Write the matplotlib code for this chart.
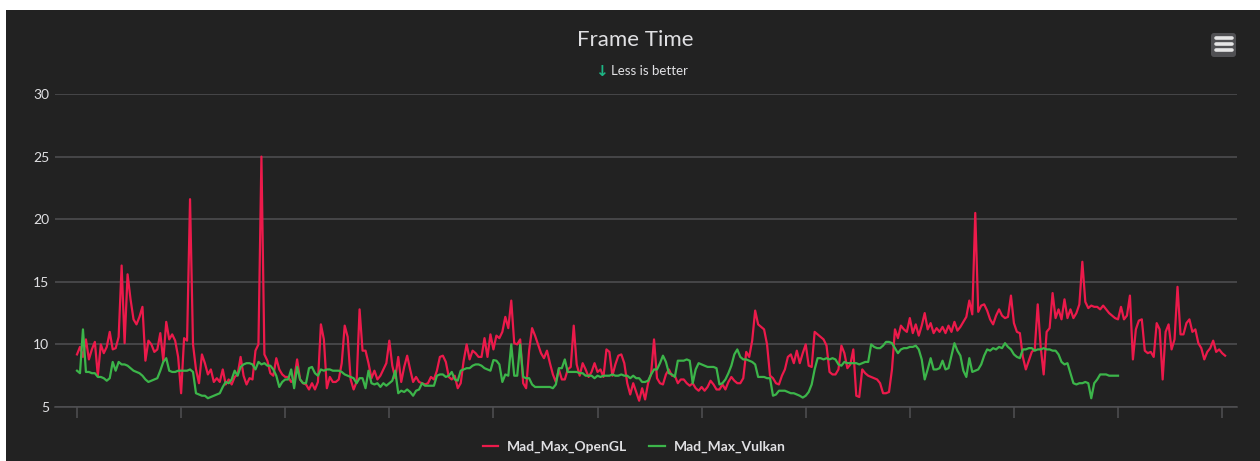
import matplotlib
matplotlib.use('Agg')
import matplotlib.pyplot as plt
import numpy as np
from matplotlib.patches import Rectangle, FancyBboxPatch
from matplotlib.lines import Line2D

# Frame time (ms) per sampled frame, one row per x tick interval (35 samples)
opengl_ms = [
    9.2, 9.8, 9.0, 10.4, 8.8, 9.6, 10.2, 7.5, 10.0, 9.3, 9.8, 11.0, 9.6, 9.7, 10.6, 16.3, 10.1, 15.6, 13.6, 12.0, 11.6, 12.2, 13.0, 8.7, 10.3, 10.0, 9.4, 9.6, 10.9, 8.7, 11.8, 10.4, 10.8, 10.3, 9.0,
    6.1, 10.5, 10.3, 21.6, 10.0, 8.0, 6.9, 9.2, 8.5, 7.6, 8.0, 7.0, 7.3, 7.0, 8.0, 6.8, 7.2, 6.8, 7.4, 7.6, 9.0, 7.5, 6.8, 7.3, 7.2, 9.5, 10.0, 25.0, 9.2, 8.7, 7.7, 7.5, 8.9, 8.0, 7.6,
    7.4, 7.4, 7.0, 7.2, 8.8, 7.2, 6.9, 6.8, 6.4, 6.9, 6.4, 7.0, 11.6, 10.4, 6.5, 7.4, 7.0, 7.0, 7.2, 8.5, 11.5, 10.6, 7.2, 6.4, 7.0, 12.8, 9.5, 9.5, 8.5, 7.3, 7.9, 7.2, 7.5, 8.0, 8.5,
    10.3, 8.3, 7.3, 9.0, 7.0, 8.2, 9.1, 8.0, 7.0, 7.4, 7.0, 6.9, 6.8, 6.9, 7.4, 7.2, 7.9, 9.0, 9.1, 8.6, 7.4, 7.2, 7.5, 6.5, 6.9, 8.7, 10.0, 8.8, 9.5, 9.3, 9.0, 9.0, 10.5, 9.0, 10.8,
    9.6, 10.7, 10.5, 11.0, 12.2, 11.3, 13.5, 10.1, 10.0, 10.4, 6.9, 6.5, 9.5, 11.3, 10.7, 10.0, 9.3, 8.9, 9.5, 8.5, 7.6, 7.0, 8.0, 7.2, 7.2, 8.0, 8.2, 11.5, 8.4, 7.5, 8.5, 8.0, 7.4, 7.8, 8.5,
    7.8, 8.0, 7.4, 9.6, 9.4, 7.5, 8.4, 9.1, 9.2, 8.5, 6.9, 6.0, 6.9, 6.2, 5.5, 6.5, 5.6, 6.9, 7.6, 10.4, 7.3, 6.9, 6.8, 7.6, 8.0, 7.5, 7.5, 6.9, 7.2, 7.2, 6.9, 6.7, 6.9, 6.5, 6.3,
    6.6, 6.3, 6.6, 7.1, 6.8, 6.4, 6.4, 6.8, 6.4, 7.0, 7.4, 7.1, 6.9, 6.9, 7.3, 9.4, 9.0, 10.3, 12.7, 11.6, 11.4, 11.2, 10.0, 7.5, 7.3, 6.9, 6.8, 7.5, 8.0, 9.0, 9.2, 8.5, 9.5, 8.5, 9.3,
    10.0, 8.3, 8.2, 11.0, 10.8, 10.6, 10.4, 9.9, 7.8, 7.6, 7.6, 8.0, 9.9, 9.3, 8.1, 8.4, 9.6, 5.9, 5.8, 8.0, 7.7, 7.5, 7.4, 7.3, 7.2, 6.9, 6.1, 6.1, 6.2, 8.0, 11.2, 10.5, 11.5, 11.2, 11.0,
    12.1, 10.9, 11.6, 10.7, 11.5, 12.5, 11.2, 11.7, 10.9, 11.3, 11.0, 11.4, 10.9, 11.5, 11.0, 11.8, 11.1, 11.4, 11.8, 12.2, 13.5, 12.4, 20.5, 12.6, 13.1, 13.2, 12.7, 12.0, 11.6, 12.3, 12.8, 12.3, 12.1, 12.2, 13.9,
    11.7, 11.0, 10.9, 9.0, 8.0, 8.7, 9.4, 9.6, 13.2, 9.8, 7.6, 11.0, 11.3, 14.1, 12.1, 12.8, 12.0, 13.6, 12.1, 12.8, 12.1, 12.5, 13.2, 16.6, 13.4, 12.9, 13.1, 13.0, 13.0, 12.8, 13.1, 12.8, 12.5, 12.3, 12.1,
    12.0, 13.0, 12.0, 12.3, 13.9, 8.8, 11.2, 11.9, 12.0, 9.5, 9.3, 9.4, 9.0, 11.7, 11.2, 7.2, 11.0, 11.6, 9.6, 10.4, 14.6, 10.8, 10.8, 11.7, 12.0, 11.0, 11.2, 10.1, 9.7, 8.8, 9.4, 9.7, 10.3, 9.4, 9.6, 9.3, 9.1,
]

vulkan_ms = [
    7.9, 7.7, 11.2, 7.8, 7.8, 7.7, 7.7, 7.4, 7.4, 7.3, 7.1, 7.3, 8.6, 7.9, 8.6, 8.4, 8.4, 8.3, 8.1, 7.9, 7.8, 7.7, 7.5, 7.2, 7.0, 7.1, 7.2, 7.3, 7.9, 8.6, 8.9, 7.9, 7.8, 7.8, 7.9,
    7.9, 7.9, 7.9, 8.0, 7.8, 6.1, 6.0, 5.9, 5.9, 5.7, 5.8, 5.9, 6.0, 6.1, 6.6, 7.0, 6.9, 7.2, 7.9, 7.5, 8.2, 8.4, 8.5, 8.5, 8.4, 8.0, 8.6, 8.4, 8.5, 8.3, 8.3, 8.0, 7.5, 6.6, 7.0,
    7.2, 7.2, 8.0, 6.5, 8.2, 7.2, 6.9, 6.9, 8.1, 8.2, 7.7, 7.5, 8.0, 7.9, 8.0, 8.0, 7.9, 7.9, 7.9, 7.8, 7.6, 7.5, 7.4, 7.3, 6.9, 7.3, 7.3, 6.5, 7.9, 6.9, 6.8, 6.9, 6.6, 6.9, 6.7,
    6.9, 7.1, 7.9, 6.1, 6.3, 6.2, 6.4, 6.2, 5.9, 6.3, 6.4, 6.9, 6.7, 6.7, 6.7, 6.7, 7.5, 7.6, 7.6, 7.4, 7.5, 7.8, 7.2, 7.1, 7.9, 8.0, 8.1, 8.1, 8.3, 8.4, 8.4, 8.3, 8.1, 8.0, 7.9,
    8.75, 8.7, 8.4, 7.0, 7.6, 7.5, 10.0, 7.5, 7.5, 10.0, 7.4, 7.3, 7.3, 6.8, 6.6, 6.6, 6.6, 6.6, 6.6, 6.6, 6.5, 6.8, 8.1, 8.1, 8.8, 7.8, 7.8, 7.8, 7.8, 7.7, 7.7, 7.5, 7.5, 7.5, 7.3,
    7.5, 7.4, 7.5, 7.5, 7.5, 7.6, 7.5, 7.5, 7.6, 7.5, 7.5, 7.3, 7.5, 7.3, 7.3, 7.0, 7.0, 7.1, 7.6, 8.0, 8.0, 8.5, 9.1, 8.6, 7.7, 7.6, 7.4, 8.7, 8.7, 8.7, 8.8, 8.7, 6.9, 8.0, 8.5,
    8.4, 8.3, 8.2, 8.2, 8.2, 8.1, 6.8, 6.9, 7.2, 7.7, 8.3, 9.2, 9.6, 9.0, 8.8, 8.8, 8.7, 8.6, 8.4, 7.4, 7.4, 7.4, 7.3, 7.3, 5.9, 6.0, 6.3, 6.3, 6.3, 6.2, 6.1, 6.1, 6.0, 5.9, 5.75,
    5.9, 6.2, 6.8, 8.0, 8.9, 8.9, 8.8, 8.9, 8.8, 8.9, 8.8, 8.4, 8.3, 8.6, 8.5, 8.5, 8.5, 8.5, 8.4, 8.5, 8.6, 8.6, 10.0, 9.8, 9.7, 9.7, 9.9, 10.2, 10.2, 10.1, 9.7, 9.3, 9.6, 9.7, 9.7,
    9.8, 9.8, 9.9, 9.6, 8.8, 7.2, 8.0, 8.9, 8.0, 8.0, 8.1, 8.7, 8.0, 8.1, 9.1, 10.1, 9.5, 9.1, 7.9, 7.4, 8.9, 7.8, 7.9, 8.0, 8.4, 9.1, 9.6, 9.5, 9.7, 9.6, 9.8, 9.7, 10.1, 9.8, 9.6,
    9.2, 9.0, 8.9, 9.6, 9.6, 9.7, 9.7, 9.5, 9.6, 9.6, 9.7, 9.6, 9.6, 9.5, 9.5, 9.2, 8.6, 8.4, 8.5, 7.7, 6.9, 6.8, 6.9, 6.9, 7.0, 6.9, 5.7, 6.9, 7.2, 7.6, 7.6, 7.6, 7.5, 7.5, 7.5, 7.5,
]

series_names = ['Mad_Max_OpenGL', 'Mad_Max_Vulkan']
series_colors = ['#ec1a4b', '#3cb54a']
y_ticks = [5, 10, 15, 20, 25, 30]
tick_step = 35

W, H = 1260, 461
BG = '#222222'
TXT = '#e0e0e3'
GRID = '#505053'

plt.rcParams['font.family'] = ['Lato', 'DejaVu Sans']

fig = plt.figure(figsize=(W / 100, H / 100), dpi=100, facecolor='white')

# dark chart area (leaves thin white strip at top/left like the screenshot)
fig.add_artist(Rectangle((6 / 100, 0), (W - 6) / 100, (H - 10) / 100,
                         transform=fig.dpi_scale_trans, facecolor=BG,
                         edgecolor='none', zorder=-10))

ax = fig.add_axes([55 / W, (H - 407) / H, (1237 - 55) / W, (407 - 94) / H])
ax.set_facecolor('none')

x_gl = np.arange(len(opengl_ms))
x_vk = np.arange(len(vulkan_ms))
ax.plot(x_gl, opengl_ms, color=series_colors[0], lw=1.6, solid_joinstyle='round', zorder=3)
ax.plot(x_vk, vulkan_ms, color=series_colors[1], lw=1.6, solid_joinstyle='round', zorder=4)

ax.set_ylim(5, 30)
ax.set_yticks(y_ticks)
ax.set_xlim(-7.4, 390)
ax.set_xticks(np.arange(0, len(opengl_ms), tick_step))
ax.set_xticklabels([])

ax.grid(axis='y', color=GRID, lw=1.1)
ax.set_axisbelow(True)
for s in ['top', 'right', 'left']:
    ax.spines[s].set_visible(False)
ax.spines['bottom'].set_color(GRID)
ax.spines['bottom'].set_linewidth(1.1)
ax.tick_params(axis='y', length=0, pad=4, labelsize=10, labelcolor=TXT)
ax.tick_params(axis='x', length=8, width=1.1, color=GRID, direction='out')

# title and subtitle
fig.text(635 / W, 1 - 40 / H, 'Frame Time', ha='center', va='center',
         fontsize=16, color=TXT)
fig.text(601 / W, 1 - 71 / H, '\u2193', ha='center', va='center',
         fontsize=11, color='#1db584', fontweight='bold', family='DejaVu Sans')
fig.text(611 / W, 1 - 71 / H, 'Less is better', ha='left', va='center',
         fontsize=9.5, color=TXT)

# legend
handles = [Line2D([], [], color=c, lw=1.6) for c in series_colors]
leg = fig.legend(handles, series_names, loc='center', bbox_to_anchor=(634 / W, 1 - 447 / H),
                 ncol=2, frameon=False, handlelength=1.1, handletextpad=0.65,
                 columnspacing=1.6, prop={'size': 10, 'weight': 'bold'})
for t in leg.get_texts():
    t.set_color(TXT)

# context menu button
fig.add_artist(FancyBboxPatch((1211 / 100, (H - 57) / 100), 25 / 100, 24 / 100,
                              boxstyle='round,pad=0,rounding_size=0.03',
                              transform=fig.dpi_scale_trans, facecolor='#505053',
                              edgecolor='none'))
for yy in (38, 44, 50):
    fig.add_artist(Line2D([1216 / 100, 1232 / 100], [(H - yy) / 100, (H - yy) / 100],
                          transform=fig.dpi_scale_trans, color='#e6e6e6', lw=2.6,
                          solid_capstyle='round'))

fig.savefig('out.png', dpi=100, facecolor=fig.get_facecolor())
